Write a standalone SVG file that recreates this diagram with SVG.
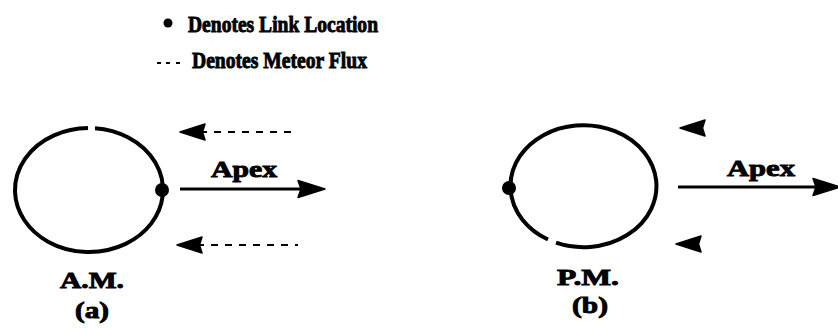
<svg xmlns="http://www.w3.org/2000/svg" width="838" height="328" viewBox="0 0 838 328">
<style>
text{font-family:"Liberation Serif","Times New Roman",serif;font-weight:bold;fill:#000;stroke:#000;stroke-width:0.9}
.lg{font-size:24px}
.lb{font-size:23px;text-anchor:middle}
.orb{fill:none;stroke:#000;stroke-width:4}
.ln{stroke:#000;stroke-width:3;fill:none}
.ds{stroke:#000;stroke-width:2;stroke-dasharray:7 7;fill:none}
</style>
<defs>
<path id="ahR" d="M0,0 L-27,-8.5 L-24,0 L-27,8.5 Z" fill="#000" stroke="#000" stroke-width="1.5" stroke-linejoin="round"/>
<path id="ahL" d="M0,0 L25,-8 L22.5,0 L25,8 Z" fill="#000" stroke="#000" stroke-width="1.5" stroke-linejoin="round"/>
</defs>
<g id="legend">
<circle cx="168" cy="23" r="4.5" fill="#000"/>
<text class="lg" x="188" y="32" textLength="190" lengthAdjust="spacingAndGlyphs">Denotes Link Location</text>
<path stroke="#000" stroke-width="2" fill="none" d="M157,63 H161 M166,63 H170 M176,63 H180"/>
<text class="lg" x="192" y="68" textLength="175" lengthAdjust="spacingAndGlyphs">Denotes Meteor Flux</text>
</g>
<g id="orbit-am">
<path class="orb" d="M88,128 A74,62 0 1 0 95,128.2"/>
<circle cx="162" cy="190" r="7" fill="#000"/>
<text class="lb" x="92" y="288" textLength="64" lengthAdjust="spacingAndGlyphs">A.M.</text>
<text class="lb" x="92" y="318" textLength="34" lengthAdjust="spacingAndGlyphs">(a)</text>
</g>
<g id="orbit-pm">
<path class="orb" d="M548,239.5 A73,61 0 1 1 556,242.7"/>
<circle cx="509" cy="188" r="7" fill="#000"/>
<text class="lb" x="588" y="285" textLength="62" lengthAdjust="spacingAndGlyphs">P.M.</text>
<text class="lb" x="590" y="313" textLength="36" lengthAdjust="spacingAndGlyphs">(b)</text>
</g>
<g id="connectors">
<path class="ln" d="M180,189 H305"/>
<use href="#ahR" x="325" y="189"/>
<text class="lb" x="244" y="177" textLength="66" lengthAdjust="spacingAndGlyphs">Apex</text>
<path class="ds" d="M200,132 H298"/>
<use href="#ahL" x="180" y="132"/>
<path class="ds" d="M197,245 H298"/>
<use href="#ahL" x="177" y="245"/>
<path class="ln" d="M678,187 H820"/>
<use href="#ahR" x="840" y="187"/>
<text class="lb" x="761" y="176" textLength="68" lengthAdjust="spacingAndGlyphs">Apex</text>
<use href="#ahL" x="680" y="128"/>
<use href="#ahL" x="676" y="244"/>
</g>
</svg>
